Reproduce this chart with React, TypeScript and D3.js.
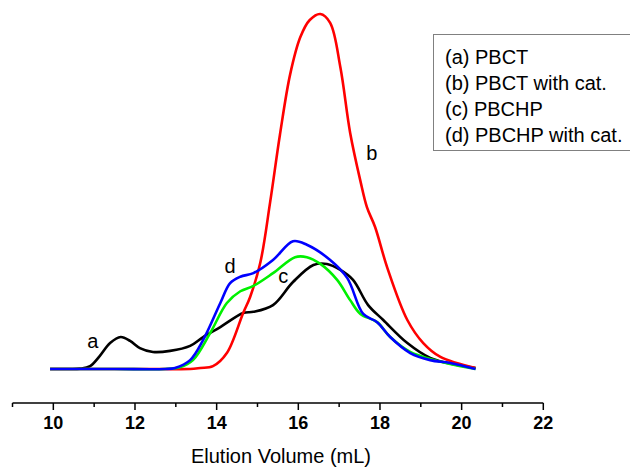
import React from 'react';
import * as d3 from 'd3';

const xTicks = [10, 12, 14, 16, 18, 20, 22];
const minorTicks = [9, 11, 13, 15, 17, 19, 21];

const seriesA_x = [9.92, 10.4, 10.65, 10.9, 11.14, 11.39, 11.65, 11.88, 12.12, 12.44, 12.86, 13.35, 13.67, 14.09, 14.65, 14.9, 15.38, 15.87, 16.37, 16.7, 17.03, 17.34, 17.71, 18.08, 18.67, 19.23, 19.65, 20.34];
const seriesA_y = [0, 0, 0.1, 0.8, 3.7, 7.3, 9.0, 7.9, 5.9, 4.8, 5.1, 6.5, 9.0, 11.8, 15.8, 16.1, 18.0, 24.5, 29.3, 29.6, 27.9, 25.1, 18.0, 13.8, 7.3, 3.1, 1.7, 0.3];

const seriesB_x = [9.92, 11.5, 12.62, 13.35, 13.6, 13.91, 14.25, 14.65, 14.82, 15.07, 15.31, 15.55, 15.8, 16.05, 16.28, 16.54, 16.78, 17.03, 17.27, 17.52, 17.68, 17.88, 18.18, 18.67, 19.06, 19.48, 20.34];
const seriesB_y = [0, 0, 0, 0, 0.3, 0.8, 4.5, 15.8, 20.3, 30, 47, 66, 83, 93.5, 98.3, 100, 97.5, 85, 66.5, 53, 45.6, 40, 28.5, 13.8, 7.3, 3.4, 0.3];

const seriesC_x = [9.92, 11.5, 12.74, 13.1, 13.42, 13.84, 14.25, 14.58, 14.9, 15.38, 15.92, 16.21, 16.54, 16.95, 17.27, 17.52, 17.93, 18.25, 18.74, 19.23, 19.72, 20.34];
const seriesC_y = [0, 0, 0, 0.5, 2.5, 10.1, 18.6, 21.9, 23.4, 27, 31.5, 31.5, 29.6, 25.1, 19.4, 15.5, 13.2, 9.0, 4.8, 2.8, 1.4, 0];

const seriesD_x = [9.92, 11.5, 12.74, 12.98, 13.35, 13.67, 14.09, 14.33, 14.58, 14.9, 15.38, 15.87, 16.21, 16.78, 17.2, 17.59, 17.93, 18.25, 18.74, 19.23, 19.72, 20.34];
const seriesD_y = [0, 0, 0, 0.3, 2.5, 8.2, 18.6, 24.2, 26, 27, 30.7, 36, 35, 30.7, 25.6, 15.5, 13.2, 9.0, 4.5, 2.5, 1.7, 0];

const legendLabels = ['(a) PBCT', '(b) PBCT with cat.', '(c) PBCHP', '(d) PBCHP with cat.'];
const curveLabels = ['a', 'b', 'c', 'd'];
const labelPos: [number, number][] = [[10.97, 7.5], [17.8, 60.5], [15.63, 25.6], [14.33, 28.5]];

export default function App() {
  const x = d3.scaleLinear().domain([9, 22]).range([12.5, 543.3]);
  const y = d3.scaleLinear().domain([0, 100]).range([369, 14]);
  const line = d3.line<[number, number]>()
    .x(d => x(d[0]))
    .y(d => Math.min(y(d[1]), 369))
    .curve(d3.curveCatmullRom.alpha(0.5));
  const zip = (xs: number[], ys: number[]) => xs.map((v, i) => [v, ys[i]] as [number, number]);
  const series = [
    { data: zip(seriesA_x, seriesA_y), color: '#000000' },
    { data: zip(seriesB_x, seriesB_y), color: '#ff0000' },
    { data: zip(seriesC_x, seriesC_y), color: '#00f000' },
    { data: zip(seriesD_x, seriesD_y), color: '#0000ff' },
  ];
  const axisY = 403;
  const font = 'Arial, "Liberation Sans", sans-serif';
  return (
    <svg width={630} height={468} style={{ position: 'absolute', left: 0, top: 0, background: '#fff' }}>
      <rect x={0} y={0} width={630} height={468} fill="#fff" />
      {series.map((s, i) => (
        <path key={i} d={line(s.data) || ''} fill="none" stroke={s.color} strokeWidth={2.6} strokeLinejoin="round" />
      ))}
      {curveLabels.map((l, i) => (
        <text key={l} x={x(labelPos[i][0])} y={y(labelPos[i][1])} fontFamily={font} fontSize={20} textAnchor="middle" dominantBaseline="middle">{l}</text>
      ))}
      <line x1={x(9)} x2={x(22)} y1={axisY} y2={axisY} stroke="#000" strokeWidth={1.5} />
      {xTicks.map(t => (
        <g key={t}>
          <line x1={x(t)} x2={x(t)} y1={axisY} y2={axisY + 7} stroke="#000" strokeWidth={1.5} />
          <text x={x(t)} y={429} fontFamily={font} fontSize={18} fontWeight="bold" textAnchor="middle">{t}</text>
        </g>
      ))}
      {minorTicks.map(t => (
        <line key={t} x1={x(t)} x2={x(t)} y1={axisY} y2={axisY + 4} stroke="#000" strokeWidth={1.5} />
      ))}
      <text x={281} y={463} fontFamily={font} fontSize={20} textAnchor="middle">Elution Volume (mL)</text>
      <rect x={433.5} y={34.5} width={220} height={116} fill="#fff" stroke="#808080" strokeWidth={1} />
      {legendLabels.map((l, i) => (
        <text key={l} x={445} y={64 + i * 26} fontFamily={font} fontSize={20}>{l}</text>
      ))}
    </svg>
  );
}
